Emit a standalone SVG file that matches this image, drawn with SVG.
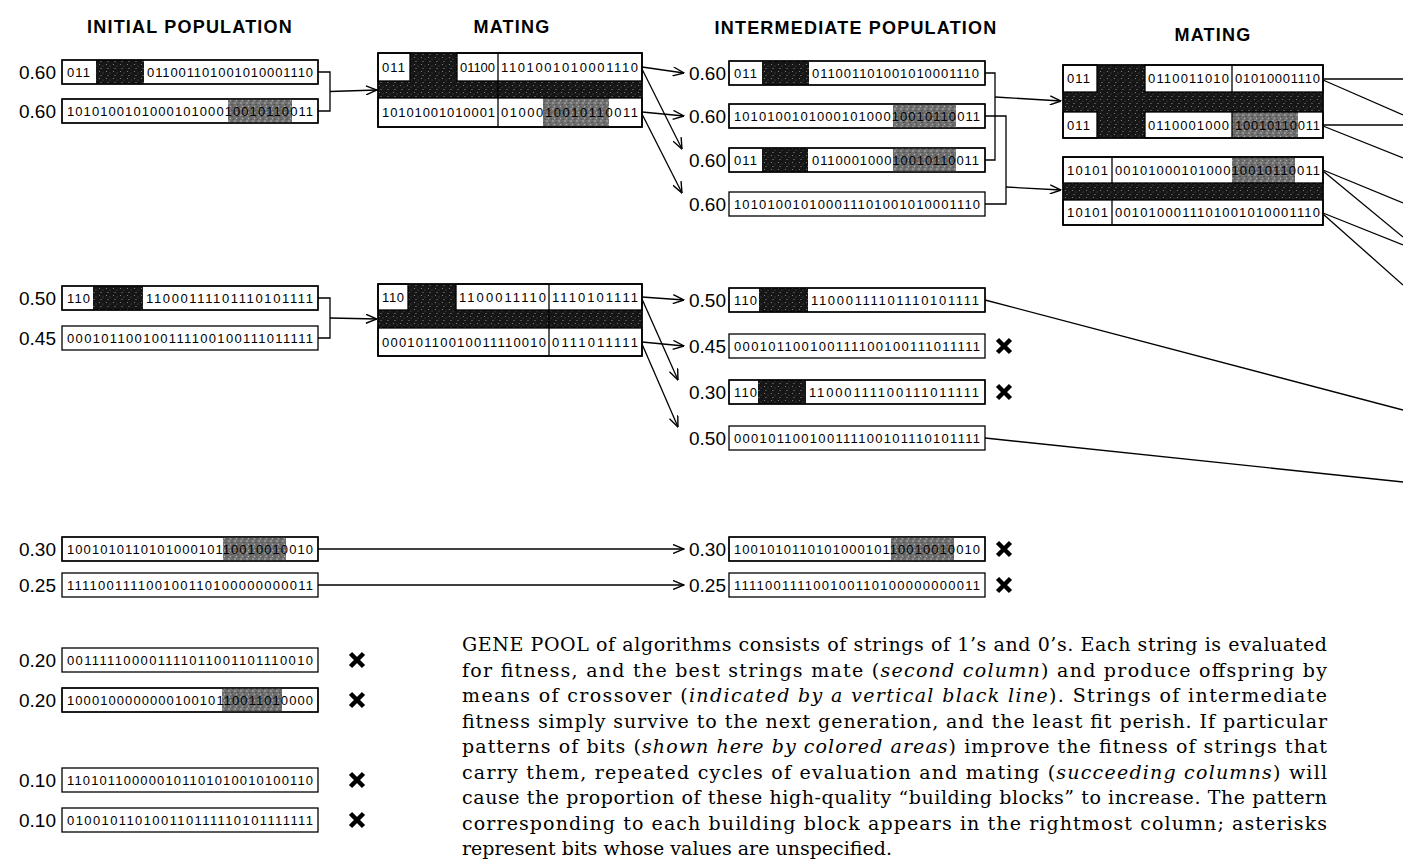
<svg xmlns="http://www.w3.org/2000/svg" width="1403" height="861" viewBox="0 0 1403 861">
<style>
.b{fill:#fff;stroke:#000;stroke-width:1.3}
.o{fill:none;stroke:#000;stroke-width:1.3}
.bits{font-family:"Liberation Sans",Arial,sans-serif;font-size:13px;fill:#000}
.lbl{font-family:"Liberation Sans",Arial,sans-serif;font-size:19px;fill:#000;text-anchor:end}
.hdr{font-family:"Liberation Sans",Arial,sans-serif;font-size:18px;font-weight:bold;fill:#000;text-anchor:middle;letter-spacing:1.2px}
.cap{font-family:"DejaVu Serif","Liberation Serif",serif;font-size:19px;fill:#000}
.ln{fill:none;stroke:#000;stroke-width:1.3}
.ar{marker-end:url(#ah)}
.x{stroke:#000;stroke-width:4.5;fill:none}
.dk{fill:url(#dk)}
.md{fill:url(#md)}
</style>
<defs>
<marker id="ah" viewBox="0 0 12 10" refX="11.5" refY="5" markerWidth="12" markerHeight="10" markerUnits="userSpaceOnUse" orient="auto">
<path d="M0.5,0.5 L11.5,5 L0.5,9.5" fill="none" stroke="#000" stroke-width="1.4"/>
</marker>
<pattern id="dk" width="7" height="7" patternUnits="userSpaceOnUse">
<rect width="7" height="7" fill="#161616"/>
<circle cx="1.5" cy="1.5" r="0.6" fill="#8a8a8a"/>
<circle cx="5" cy="3" r="0.5" fill="#666"/>
<circle cx="3" cy="5.5" r="0.6" fill="#9a9a9a"/>
</pattern>
<pattern id="md" width="6" height="6" patternUnits="userSpaceOnUse">
<rect width="6" height="6" fill="#707070"/>
<circle cx="1" cy="1" r="0.7" fill="#c8c8c8"/>
<circle cx="4" cy="2.5" r="0.6" fill="#303030"/>
<circle cx="2.5" cy="4.5" r="0.7" fill="#b0b0b0"/>
<circle cx="5" cy="5" r="0.5" fill="#222"/>
</pattern>
</defs>
<rect width="1403" height="861" fill="#fff"/>

<g id="headers">
<text class="hdr" x="190" y="33">INITIAL POPULATION</text>
<text class="hdr" x="512" y="33">MATING</text>
<text class="hdr" x="856" y="34">INTERMEDIATE POPULATION</text>
<text class="hdr" x="1213" y="41">MATING</text>
</g>

<g id="connectors">
<polyline class="ln" points="318,72 330,72 330,111 318,111"/>
<line class="ln ar" x1="330" y1="91.5" x2="377" y2="90"/>
<polyline class="ln" points="318,298 330,298 330,338 318,338"/>
<line class="ln ar" x1="330" y1="318" x2="377" y2="319"/>
<line class="ln ar" x1="642" y1="67" x2="684" y2="73"/>
<line class="ln ar" x1="642" y1="112" x2="684" y2="116"/>
<line class="ln ar" x1="642" y1="69" x2="682" y2="149"/>
<line class="ln ar" x1="642" y1="114" x2="682" y2="193"/>
<line class="ln ar" x1="642" y1="297" x2="684" y2="300"/>
<line class="ln ar" x1="642" y1="342" x2="684" y2="346"/>
<line class="ln ar" x1="642" y1="299" x2="678" y2="380"/>
<line class="ln ar" x1="642" y1="344" x2="678" y2="427"/>
<polyline class="ln" points="985,73 995,73 995,160 985,160"/>
<line class="ln ar" x1="995" y1="97" x2="1061" y2="101"/>
<polyline class="ln" points="985,116 1006,116 1006,204 985,204"/>
<line class="ln ar" x1="1006" y1="187" x2="1061" y2="190"/>
<line class="ln" x1="985" y1="300" x2="1403" y2="410"/>
<line class="ln" x1="985" y1="438" x2="1403" y2="482"/>
<line class="ln ar" x1="318" y1="549" x2="684" y2="549"/>
<line class="ln ar" x1="318" y1="585" x2="684" y2="585"/>
<line class="ln" x1="1323" y1="79" x2="1403" y2="79"/>
<line class="ln" x1="1323" y1="80" x2="1403" y2="115"/>
<line class="ln" x1="1323" y1="125" x2="1403" y2="125"/>
<line class="ln" x1="1323" y1="126" x2="1403" y2="158"/>
<line class="ln" x1="1323" y1="170" x2="1403" y2="203"/>
<line class="ln" x1="1323" y1="171" x2="1403" y2="237"/>
<line class="ln" x1="1323" y1="213" x2="1403" y2="245"/>
<line class="ln" x1="1323" y1="214" x2="1403" y2="285"/>
</g>

<!-- Initial population -->
<g id="a1">
<text class="lbl" x="56" y="79">0.60</text>
<rect class="b" x="62" y="60" width="256" height="24"/>
<rect class="dk" x="96" y="60" width="48" height="24"/>
<text class="bits" x="67" y="76.7" textLength="23">011</text>
<text class="bits" x="147" y="76.7" textLength="166">011001101001010001110</text>
<rect class="o" x="62" y="60" width="256" height="24"/>
</g>
<g id="a2">
<text class="lbl" x="56" y="118">0.60</text>
<rect class="b" x="62" y="99" width="256" height="24"/>
<rect class="md" x="228" y="99" width="64" height="24"/>
<text class="bits" x="67" y="115.7" textLength="246">101010010100010100010010110011</text>
<rect class="o" x="62" y="99" width="256" height="24"/>
</g>
<g id="a3">
<text class="lbl" x="56" y="305">0.50</text>
<rect class="b" x="62" y="286" width="256" height="24"/>
<rect class="dk" x="93" y="286" width="50" height="24"/>
<text class="bits" x="67" y="302.7" textLength="23">110</text>
<text class="bits" x="146" y="302.7" textLength="167">11000111101110101111</text>
<rect class="o" x="62" y="286" width="256" height="24"/>
</g>
<g id="a4">
<text class="lbl" x="56" y="345">0.45</text>
<rect class="b" x="62" y="326" width="256" height="24"/>
<text class="bits" x="67" y="342.7" textLength="246">000101100100111100100111011111</text>
</g>
<g id="a5">
<text class="lbl" x="56" y="556">0.30</text>
<rect class="b" x="62" y="537" width="256" height="24"/>
<rect class="md" x="223" y="537" width="63" height="24"/>
<text class="bits" x="67" y="553.7" textLength="246">100101011010100010110010010010</text>
<rect class="o" x="62" y="537" width="256" height="24"/>
</g>
<g id="a6">
<text class="lbl" x="56" y="592">0.25</text>
<rect class="b" x="62" y="573" width="256" height="24"/>
<text class="bits" x="67" y="589.7" textLength="246">111100111100100110100000000011</text>
</g>
<g id="a7">
<text class="lbl" x="56" y="667">0.20</text>
<rect class="b" x="62" y="648" width="256" height="24"/>
<text class="bits" x="67" y="664.7" textLength="246">001111100001111011001101110010</text>
<path class="x" d="M350.5,653.5 L363.5,666.5 M363.5,653.5 L350.5,666.5"/>
</g>
<g id="a8">
<text class="lbl" x="56" y="707">0.20</text>
<rect class="b" x="62" y="688" width="256" height="24"/>
<rect class="md" x="222" y="688" width="60" height="24"/>
<text class="bits" x="67" y="704.7" textLength="246">100010000000010010110011010000</text>
<rect class="o" x="62" y="688" width="256" height="24"/>
<path class="x" d="M350.5,693.5 L363.5,706.5 M363.5,693.5 L350.5,706.5"/>
</g>
<g id="a9">
<text class="lbl" x="56" y="787">0.10</text>
<rect class="b" x="62" y="768" width="256" height="24"/>
<text class="bits" x="67" y="784.7" textLength="246">110101100000101101010010100110</text>
<path class="x" d="M350.5,773.5 L363.5,786.5 M363.5,773.5 L350.5,786.5"/>
</g>
<g id="a10">
<text class="lbl" x="56" y="827">0.10</text>
<rect class="b" x="62" y="808" width="256" height="24"/>
<text class="bits" x="67" y="824.7" textLength="246">010010110100110111110101111111</text>
<path class="x" d="M350.5,813.5 L363.5,826.5 M363.5,813.5 L350.5,826.5"/>
</g>

<!-- Mating 1 -->
<g id="m1">
<rect class="b" x="378" y="53" width="264" height="74"/>
<rect class="dk" x="378" y="81" width="264" height="17"/>
<rect class="dk" x="410" y="53" width="47" height="28"/>
<rect class="o" x="378" y="53" width="32" height="28"/>
<rect class="o" x="457" y="53" width="185" height="28"/>
<rect class="md" x="543" y="98" width="66" height="29"/>
<rect class="o" x="378" y="98" width="264" height="29"/>
<line class="ln" x1="498" y1="53" x2="498" y2="127"/>
<text class="bits" x="382" y="71.7" textLength="23">011</text>
<text class="bits" x="460" y="71.7" textLength="35">01100</text>
<text class="bits" x="501" y="71.7" textLength="137">1101001010001110</text>
<text class="bits" x="382" y="117.2" textLength="113">10101001010001</text>
<text class="bits" x="501" y="117.2" textLength="137">0100010010110011</text>
<rect class="o" x="378" y="53" width="264" height="74"/>
</g>

<!-- Mating 2 -->
<g id="m2">
<rect class="b" x="378" y="284" width="264" height="72"/>
<rect class="dk" x="378" y="310" width="264" height="18"/>
<rect class="dk" x="408" y="284" width="48" height="26"/>
<rect class="o" x="378" y="284" width="30" height="26"/>
<rect class="o" x="456" y="284" width="186" height="26"/>
<rect class="o" x="378" y="328" width="264" height="28"/>
<line class="ln" x1="549" y1="284" x2="549" y2="356"/>
<text class="bits" x="382" y="301.7" textLength="22">110</text>
<text class="bits" x="459" y="301.7" textLength="87">1100011110</text>
<text class="bits" x="552" y="301.7" textLength="86">1110101111</text>
<text class="bits" x="382" y="346.7" textLength="164">00010110010011110010</text>
<text class="bits" x="552" y="346.7" textLength="86">0111011111</text>
<rect class="o" x="378" y="284" width="264" height="72"/>
</g>

<!-- Intermediate population -->
<g id="i1">
<text class="lbl" x="726" y="80">0.60</text>
<rect class="b" x="729" y="61" width="256" height="24"/>
<rect class="dk" x="762" y="61" width="47" height="24"/>
<text class="bits" x="734" y="77.7" textLength="23">011</text>
<text class="bits" x="812" y="77.7" textLength="167">011001101001010001110</text>
<rect class="o" x="729" y="61" width="256" height="24"/>
</g>
<g id="i2">
<text class="lbl" x="726" y="123">0.60</text>
<rect class="b" x="729" y="104" width="256" height="24"/>
<rect class="md" x="893" y="104" width="63" height="24"/>
<text class="bits" x="734" y="120.7" textLength="246">101010010100010100010010110011</text>
<rect class="o" x="729" y="104" width="256" height="24"/>
</g>
<g id="i3">
<text class="lbl" x="726" y="167">0.60</text>
<rect class="b" x="729" y="148" width="256" height="24"/>
<rect class="dk" x="762" y="148" width="46" height="24"/>
<rect class="md" x="893" y="148" width="63" height="24"/>
<text class="bits" x="734" y="164.7" textLength="23">011</text>
<text class="bits" x="812" y="164.7" textLength="167">011000100010010110011</text>
<rect class="o" x="729" y="148" width="256" height="24"/>
</g>
<g id="i4">
<text class="lbl" x="726" y="211">0.60</text>
<rect class="b" x="729" y="192" width="256" height="24"/>
<text class="bits" x="734" y="208.7" textLength="246">101010010100011101001010001110</text>
</g>
<g id="i5">
<text class="lbl" x="726" y="307">0.50</text>
<rect class="b" x="729" y="288" width="256" height="24"/>
<rect class="dk" x="759" y="288" width="49" height="24"/>
<text class="bits" x="734" y="304.7" textLength="23">110</text>
<text class="bits" x="811" y="304.7" textLength="168">11000111101110101111</text>
<rect class="o" x="729" y="288" width="256" height="24"/>
</g>
<g id="i6">
<text class="lbl" x="726" y="353">0.45</text>
<rect class="b" x="729" y="334" width="256" height="24"/>
<text class="bits" x="734" y="350.7" textLength="246">000101100100111100100111011111</text>
<path class="x" d="M997.5,339.5 L1010.5,352.5 M1010.5,339.5 L997.5,352.5"/>
</g>
<g id="i7">
<text class="lbl" x="726" y="399">0.30</text>
<rect class="b" x="729" y="380" width="256" height="24"/>
<rect class="dk" x="758" y="380" width="48" height="24"/>
<text class="bits" x="734" y="396.7" textLength="23">110</text>
<text class="bits" x="809" y="396.7" textLength="170">11000111100111011111</text>
<rect class="o" x="729" y="380" width="256" height="24"/>
<path class="x" d="M997.5,385.5 L1010.5,398.5 M1010.5,385.5 L997.5,398.5"/>
</g>
<g id="i8">
<text class="lbl" x="726" y="445">0.50</text>
<rect class="b" x="729" y="426" width="256" height="24"/>
<text class="bits" x="734" y="442.7" textLength="246">000101100100111100101110101111</text>
</g>
<g id="i9">
<text class="lbl" x="726" y="556">0.30</text>
<rect class="b" x="729" y="537" width="256" height="24"/>
<rect class="md" x="891" y="537" width="63" height="24"/>
<text class="bits" x="734" y="553.7" textLength="246">100101011010100010110010010010</text>
<rect class="o" x="729" y="537" width="256" height="24"/>
<path class="x" d="M997.5,542.5 L1010.5,555.5 M1010.5,542.5 L997.5,555.5"/>
</g>
<g id="i10">
<text class="lbl" x="726" y="592">0.25</text>
<rect class="b" x="729" y="573" width="256" height="24"/>
<text class="bits" x="734" y="589.7" textLength="246">111100111100100110100000000011</text>
<path class="x" d="M997.5,578.5 L1010.5,591.5 M1010.5,578.5 L997.5,591.5"/>
</g>

<!-- Mating, right column -->
<g id="r1">
<rect class="b" x="1063" y="65" width="260" height="73"/>
<rect class="dk" x="1063" y="92" width="260" height="20"/>
<rect class="dk" x="1097" y="65" width="48" height="73"/>
<rect class="o" x="1063" y="65" width="34" height="27"/>
<rect class="o" x="1145" y="65" width="178" height="27"/>
<rect class="o" x="1063" y="112" width="34" height="26"/>
<rect class="md" x="1232" y="112" width="66" height="26"/>
<rect class="o" x="1145" y="112" width="178" height="26"/>
<line class="ln" x1="1232" y1="65" x2="1232" y2="92"/>
<line class="ln" x1="1232" y1="112" x2="1232" y2="138"/>
<text class="bits" x="1067" y="83.2" textLength="23">011</text>
<text class="bits" x="1148" y="83.2" textLength="81">0110011010</text>
<text class="bits" x="1235" y="83.2" textLength="85">01010001110</text>
<text class="bits" x="1067" y="129.7" textLength="23">011</text>
<text class="bits" x="1148" y="129.7" textLength="81">0110001000</text>
<text class="bits" x="1235" y="129.7" textLength="85">10010110011</text>
<rect class="o" x="1063" y="65" width="260" height="73"/>
</g>
<g id="r2">
<rect class="b" x="1063" y="157" width="260" height="68"/>
<rect class="dk" x="1063" y="183" width="260" height="17"/>
<rect class="md" x="1232" y="157" width="63" height="26"/>
<rect class="o" x="1063" y="157" width="260" height="26"/>
<rect class="o" x="1063" y="200" width="260" height="25"/>
<line class="ln" x1="1112" y1="157" x2="1112" y2="183"/>
<line class="ln" x1="1112" y1="200" x2="1112" y2="225"/>
<text class="bits" x="1067" y="174.7" textLength="41">10101</text>
<text class="bits" x="1115" y="174.7" textLength="205">0010100010100010010110011</text>
<text class="bits" x="1067" y="217.2" textLength="41">10101</text>
<text class="bits" x="1115" y="217.2" textLength="205">0010100011101001010001110</text>
<rect class="o" x="1063" y="157" width="260" height="68"/>
</g>

<g id="caption">
<text class="cap" x="462" y="651" textLength="865">GENE POOL of algorithms consists of strings of 1’s and 0’s. Each string is evaluated</text>
<text class="cap" x="462" y="676.5" textLength="865">for fitness, and the best strings mate (<tspan font-style="italic">second column</tspan>) and produce offspring by</text>
<text class="cap" x="462" y="702" textLength="865">means of crossover (<tspan font-style="italic">indicated by a vertical black line</tspan>). Strings of intermediate</text>
<text class="cap" x="462" y="727.5" textLength="865">fitness simply survive to the next generation, and the least fit perish. If particular</text>
<text class="cap" x="462" y="753" textLength="865">patterns of bits (<tspan font-style="italic">shown here by colored areas</tspan>) improve the fitness of strings that</text>
<text class="cap" x="462" y="778.5" textLength="865">carry them, repeated cycles of evaluation and mating (<tspan font-style="italic">succeeding columns</tspan>) will</text>
<text class="cap" x="462" y="804" textLength="865">cause the proportion of these high-quality “building blocks” to increase. The pattern</text>
<text class="cap" x="462" y="829.5" textLength="865">corresponding to each building block appears in the rightmost column; asterisks</text>
<text class="cap" x="462" y="855">represent bits whose values are unspecified.</text>
</g>
</svg>
